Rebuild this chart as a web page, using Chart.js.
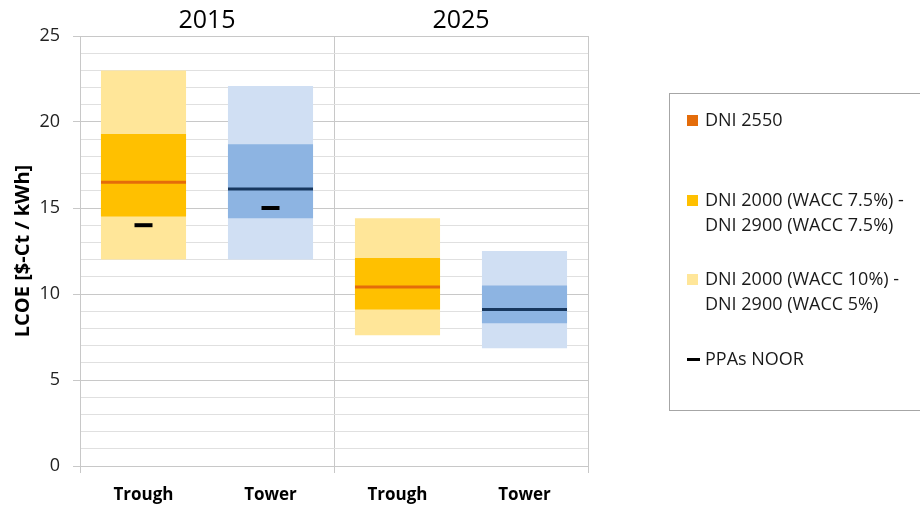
<!DOCTYPE html>
<html>
<head>
<meta charset="utf-8">
<script src="https://cdn.jsdelivr.net/npm/chart.js@4/dist/chart.umd.min.js"></script>
<style>
  html, body { margin: 0; padding: 0; background: #fff; }
  #wrap { position: relative; width: 920px; height: 508px; overflow: hidden; }
  #legend {
    position: absolute; left: 669px; top: 93px; width: 270px; height: 316px;
    border: 1px solid #A6A6A6; font-family: 'Open Sans', sans-serif;
    font-size: 18px; line-height: 25px; color: #1a1a1a;
  }
  .item { position: absolute; left: 35px; white-space: nowrap; }
  .mark { position: absolute; left: -18px; }
</style>
</head>
<body>
<div id="wrap">
  <canvas id="chart" width="920" height="508"></canvas>
  <div id="legend"></div>
</div>
<script>
// categories and groups
const categories = ['Trough', 'Tower', 'Trough', 'Tower'];
const years = ['2015', '2025'];

// LCOE ranges [$-Ct / kWh]
const outerLow  = [12, 12, 7.6, 6.85];
const outerHigh = [23, 22.1, 14.4, 12.5];
const innerLow  = [14.5, 14.4, 9.1, 8.3];
const innerHigh = [19.3, 18.7, 12.1, 10.5];
const dni2550   = [16.5, 16.1, 10.4, 9.1];
const ppaNoor   = [14, 15, null, null];

const troughColors = { outer: '#FFE699', inner: '#FFC000', line: '#E46C0A' };
const towerColors  = { outer: '#D0DFF3', inner: '#8DB4E2', line: '#17375E' };
const pick = key => categories.map(c => (c === 'Trough' ? troughColors : towerColors)[key]);

const ctx = document.getElementById('chart').getContext('2d');

new Chart(ctx, {
  type: 'bar',
  data: {
    labels: categories,
    datasets: [
      {
        label: 'DNI 2000 (WACC 10%) -\nDNI 2900 (WACC 5%)',
        data: outerLow.map((v, i) => [v, outerHigh[i]]),
        backgroundColor: pick('outer'),
        grouped: false,
        order: 4,
        barPercentage: 0.67,
        categoryPercentage: 1
      },
      {
        label: 'DNI 2000 (WACC 7.5%) -\nDNI 2900 (WACC 7.5%)',
        data: innerLow.map((v, i) => [v, innerHigh[i]]),
        backgroundColor: pick('inner'),
        grouped: false,
        order: 3,
        barPercentage: 0.67,
        categoryPercentage: 1
      },
      {
        type: 'line',
        label: 'DNI 2550',
        data: dni2550,
        showLine: false,
        pointStyle: 'line',
        pointRadius: 42.5,
        pointBorderWidth: 3,
        pointBorderColor: pick('line'),
        backgroundColor: troughColors.line,
        order: 1
      },
      {
        type: 'line',
        label: 'PPAs NOOR',
        data: ppaNoor,
        showLine: false,
        pointStyle: 'line',
        pointRadius: 9,
        pointBorderWidth: 4,
        pointBorderColor: '#000',
        backgroundColor: '#000',
        order: 0
      }
    ]
  },
  options: {
    responsive: false,
    animation: false,
    events: [],
    layout: { autoPadding: false, padding: { left: 7, right: 332, top: 0, bottom: 0 } },
    plugins: { legend: { display: false }, tooltip: { enabled: false } },
    scales: {
      x: {
        offset: true,
        grid: {
          offset: true,
          tickLength: 7,
          color: c => (c.type !== 'tick' || c.index % 2 === 0) ? '#C8C8C8' : 'transparent'
        },
        border: { display: false },
        ticks: {
          padding: 12,
          color: '#000',
          font: { family: 'Open Sans', size: 17, weight: 'bold' }
        },
        afterFit: s => { s.height = 42; }
      },
      x2: {
        type: 'category',
        position: 'top',
        labels: years,
        offset: true,
        grid: { display: false, drawTicks: false },
        border: { display: false },
        ticks: {
          padding: 0,
          color: '#000',
          font: { family: 'Open Sans', size: 25 }
        },
        afterFit: s => { s.height = 36; }
      },
      y: {
        min: 0,
        max: 25,
        grid: {
          tickLength: 7,
          color: c => c.tick.value % 5 === 0 ? '#C8C8C8' : '#E0E0E0',
          tickColor: c => c.tick.value % 5 === 0 ? '#C8C8C8' : 'transparent'
        },
        border: { display: true, color: '#C8C8C8' },
        ticks: {
          stepSize: 1,
          autoSkip: false,
          padding: 13,
          color: '#222',
          font: { family: 'Open Sans', size: 18 },
          callback: v => v % 5 === 0 ? v : ''
        },
        title: {
          display: true,
          text: 'LCOE [$-Ct / kWh]',
          color: '#000',
          padding: 4,
          font: { family: 'Open Sans', size: 20, weight: 'bold' }
        },
        afterFit: s => { s.width = 73; }
      }
    }
  }
});

// legend, built from the datasets in the reference order
const legendItems = [
  { label: 'DNI 2550', color: troughColors.line, kind: 'box', top: 13 },
  { label: 'DNI 2000 (WACC 7.5%) -\nDNI 2900 (WACC 7.5%)', color: troughColors.inner, kind: 'box', top: 93 },
  { label: 'DNI 2000 (WACC 10%) -\nDNI 2900 (WACC 5%)', color: troughColors.outer, kind: 'box', top: 172 },
  { label: 'PPAs NOOR', color: '#000', kind: 'dash', top: 252 }
];
const legend = document.getElementById('legend');
legendItems.forEach(it => {
  const div = document.createElement('div');
  div.className = 'item';
  div.style.top = it.top + 'px';
  div.innerHTML = it.label.split('\n').join('<br>');
  const mark = document.createElement('span');
  mark.className = 'mark';
  mark.style.background = it.color;
  if (it.kind === 'box') {
    mark.style.width = '11px'; mark.style.height = '11px'; mark.style.top = '8px';
  } else {
    mark.style.width = '13px'; mark.style.height = '3px'; mark.style.top = '12px';
  }
  div.appendChild(mark);
  legend.appendChild(div);
});
</script>
</body>
</html>
